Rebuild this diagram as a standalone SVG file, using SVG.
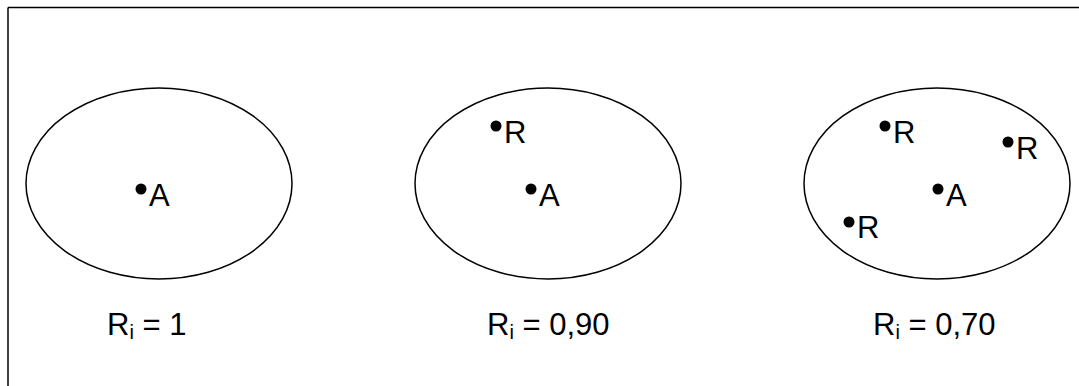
<svg xmlns="http://www.w3.org/2000/svg" width="1079" height="386" viewBox="0 0 1079 386">
<style>
.frame{stroke:#000;stroke-width:1.5;fill:none}
.ell{fill:none;stroke:#000;stroke-width:1.5}
.dot{fill:#000}
.t{font-family:"Liberation Sans",Arial,sans-serif;font-size:31px;fill:#000}
.sub{font-size:20px}
</style>
<rect width="1079" height="386" fill="#fff"/>
<g id="frame">
<line class="frame" x1="8" y1="7.5" x2="1079" y2="7.5"/>
<line class="frame" x1="8" y1="7.5" x2="8" y2="386"/>
</g>
<g id="set1">
<ellipse class="ell" cx="159" cy="183.5" rx="133" ry="95.5"/>
<circle class="dot" cx="141" cy="189" r="5.5"/>
<text class="t" x="149" y="206">A</text>
<text class="t" x="107" y="335">R<tspan class="sub" dy="4">i</tspan><tspan dy="-4"> = 1</tspan></text>
</g>
<g id="set2">
<ellipse class="ell" cx="548" cy="183.5" rx="133" ry="95.5"/>
<circle class="dot" cx="496" cy="126" r="5.5"/>
<text class="t" x="504" y="143">R</text>
<circle class="dot" cx="531" cy="189" r="5.5"/>
<text class="t" x="539" y="206">A</text>
<text class="t" x="487" y="335">R<tspan class="sub" dy="4">i</tspan><tspan dy="-4"> = 0,90</tspan></text>
</g>
<g id="set3">
<ellipse class="ell" cx="937" cy="183.5" rx="133" ry="95.5"/>
<circle class="dot" cx="885" cy="126" r="5.5"/>
<text class="t" x="893" y="143">R</text>
<circle class="dot" cx="1008" cy="142" r="5.5"/>
<text class="t" x="1016" y="159">R</text>
<circle class="dot" cx="938" cy="189" r="5.5"/>
<text class="t" x="946" y="206">A</text>
<circle class="dot" cx="849" cy="222" r="5.5"/>
<text class="t" x="857" y="238">R</text>
<text class="t" x="873" y="335">R<tspan class="sub" dy="4">i</tspan><tspan dy="-4"> = 0,70</tspan></text>
</g>
<g id="connectors"></g>
</svg>
